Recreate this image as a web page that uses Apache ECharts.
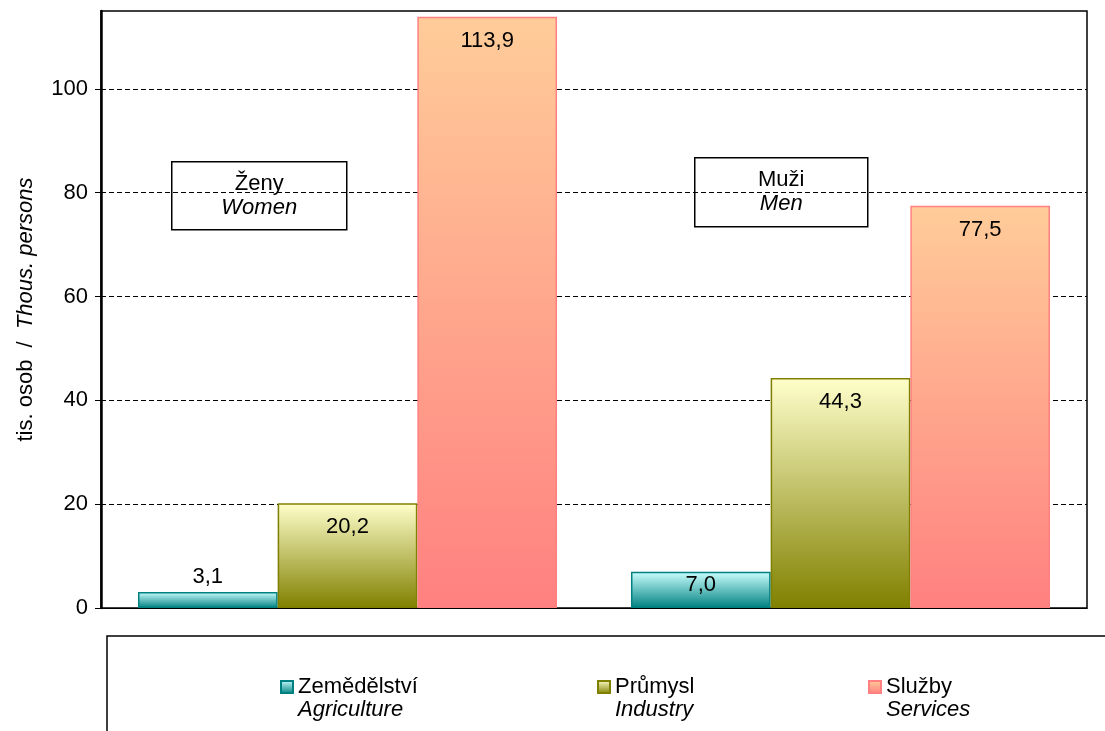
<!DOCTYPE html>
<html>
<head>
<meta charset="utf-8">
<script src="https://cdn.jsdelivr.net/npm/echarts@6/dist/echarts.min.js"></script>
<style>
html,body{margin:0;padding:0;background:#fff;}
#c{width:1105px;height:731px;}
</style>
</head>
<body>
<div id="c"></div>
<script>
// ---- data ----
const categories = ['Ženy', 'Muži'];
const categoriesEn = ['Women', 'Men'];
const agriculture = [3.1, 7.0];
const industry = [20.2, 44.3];
const services = [113.9, 77.5];
const seriesNames = ['Zemědělství', 'Průmysl', 'Služby'];
const seriesNamesEn = ['Agriculture', 'Industry', 'Services'];
const yTicks = [0, 20, 40, 60, 80, 100];

// ---- styles ----
const FONT = 'Liberation Sans, Arial, sans-serif';
const FS = 22;
const styles = [
  {top: '#CCFFFF', bottom: '#008080', border: '#008080'},
  {top: '#FFFFCC', bottom: '#808000', border: '#808000'},
  {top: '#FFCC99', bottom: '#FF8080', border: '#FF8080'}
];
const values = [agriculture, industry, services];

function fmt(v) { return v.toFixed(1).replace('.', ','); }
function labelPlacement(v) {
  if (v < 5) return {position: 'top', distance: 4};
  if (v < 10) return {position: 'insideTop', distance: 2};
  return {position: 'insideTop', distance: 13};
}

const series = values.map((vals, i) => ({
  name: seriesNames[i],
  type: 'bar',
  barGap: '0%',
  barCategoryGap: '15%',
  itemStyle: {
    color: new echarts.graphic.LinearGradient(0, 0, 0, 1, [
      {offset: 0, color: styles[i].top},
      {offset: 1, color: styles[i].bottom}
    ]),
    borderColor: styles[i].border,
    borderWidth: 1.5
  },
  label: {
    show: true,
    color: '#000',
    fontSize: FS,
    fontFamily: FONT,
    formatter: p => fmt(p.value)
  },
  data: vals.map(v => ({value: v, label: labelPlacement(v)}))
}));

const legendLeft = [280, 597, 868];
const legends = seriesNames.map((n, i) => ({
  data: [n],
  left: legendLeft[i],
  top: 653,
  padding: 0,
  icon: 'rect',
  itemWidth: 12,
  itemHeight: 12,
  itemGap: 0,
  textStyle: {
    fontFamily: FONT,
    color: '#000',
    rich: {
      e: {fontSize: FS, lineHeight: 23, fontFamily: FONT},
      a: {fontSize: FS, lineHeight: 23, fontFamily: FONT, color: '#000'},
      b: {fontSize: FS, lineHeight: 23, fontFamily: FONT, fontStyle: 'italic', color: '#000'}
    }
  },
  formatter: name => '{e| }\n{a|' + name + '}\n{b|' + seriesNamesEn[seriesNames.indexOf(name)] + '}'
}));

function box(left, top, w, h, idx) {
  return {
    type: 'group', left: left, top: top,
    children: [
      {type: 'rect', shape: {x: 0, y: 0, width: w, height: h},
       style: {fill: '#fff', stroke: '#000', lineWidth: 1.5}},
      {type: 'text', x: w / 2, y: h / 2,
       style: {
         text: '{a|' + categories[idx] + '}\n{b|' + categoriesEn[idx] + '}',
         align: 'center', verticalAlign: 'middle',
         rich: {
           a: {fontSize: FS, lineHeight: 24, fontFamily: FONT, fill: '#000', align: 'center'},
           b: {fontSize: FS, lineHeight: 24, fontFamily: FONT, fontStyle: 'italic', fill: '#000', align: 'center'}
         }
       }}
    ]
  };
}

const chart = echarts.init(document.getElementById('c'), null, {renderer: 'canvas'});
chart.setOption({
  animation: false,
  backgroundColor: '#fff',
  grid: {left: 101, right: 18, top: 11, bottom: 123, show: true, borderColor: '#000', borderWidth: 1.5, containLabel: false},
  legend: legends,
  xAxis: {
    type: 'category',
    data: categories,
    axisLine: {show: true, lineStyle: {color: '#000', width: 1}},
    axisTick: {show: false},
    axisLabel: {show: false}
  },
  yAxis: {
    type: 'value',
    min: 0,
    max: 115,
    interval: 20,
    name: '{n|tis. osob  /  }{i|Thous. persons}',
    nameLocation: 'middle',
    nameGap: 64,
    nameTextStyle: {
      rich: {
        n: {fontSize: FS, fontFamily: FONT, color: '#000'},
        i: {fontSize: FS, fontFamily: FONT, fontStyle: 'italic', color: '#000'}
      }
    },
    axisLine: {show: true, lineStyle: {color: '#000', width: 2.5}},
    axisTick: {show: true, length: 6, inside: false, customValues: yTicks, lineStyle: {color: '#000', width: 1}},
    axisLabel: {customValues: yTicks, fontSize: FS, fontFamily: FONT, color: '#000', margin: 13},
    splitLine: {show: true, lineStyle: {color: '#000', width: 1, type: [5, 3]}}
  },
  graphic: [
    {type: 'rect', z: -1, shape: {x: 107, y: 636, width: 1100, height: 200},
     style: {fill: 'none', stroke: '#000', lineWidth: 1.5}},
    box(171, 161, 175, 68, 0),
    box(694, 157, 173, 69, 1)
  ],
  series: series
});
</script>
</body>
</html>
